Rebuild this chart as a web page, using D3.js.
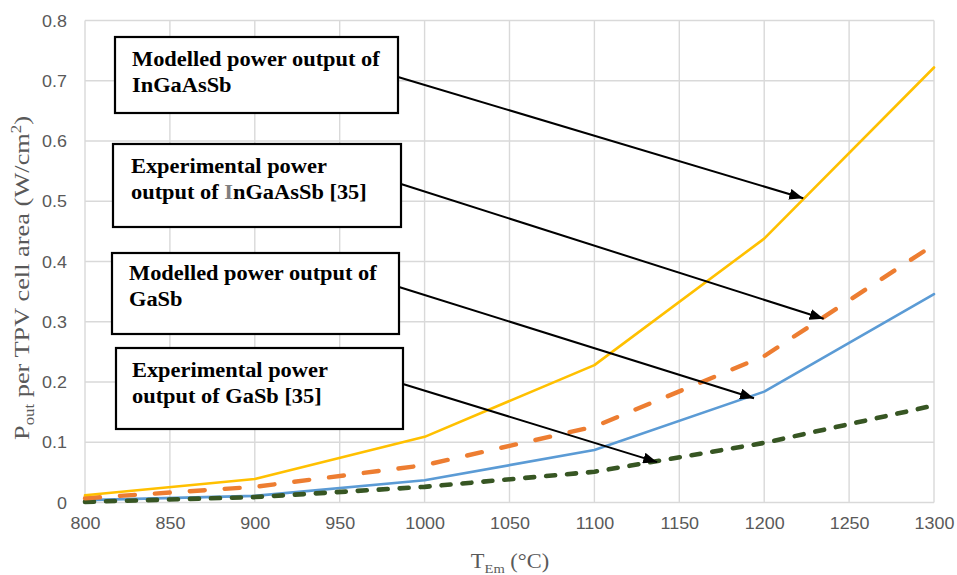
<!DOCTYPE html>
<html>
<head>
<meta charset="utf-8">
<script src="https://cdn.jsdelivr.net/npm/d3@7"></script>
<style>
  html, body { margin: 0; padding: 0; background: #fff; }
  svg { display: block; }
</style>
</head>
<body>
<svg id="chart" width="957" height="575"></svg>
<script>
// Emitter temperature (°C)
const temps = [800, 900, 1000, 1100, 1200, 1300];
// Power output per TPV cell area (W/cm²)
const modelledInGaAsSb = [0.012, 0.039, 0.109, 0.228, 0.438, 0.722];
const experimentalInGaAsSb = [0.007, 0.026, 0.062, 0.126, 0.243, 0.428];
const modelledGaSb = [0.004, 0.011, 0.037, 0.087, 0.184, 0.346];
const experimentalGaSb = [0.001, 0.009, 0.026, 0.051, 0.099, 0.161];

const xTicks = [800, 850, 900, 950, 1000, 1050, 1100, 1150, 1200, 1250, 1300];
const yTicks = [0, 0.1, 0.2, 0.3, 0.4, 0.5, 0.6, 0.7, 0.8];

// Callout texts and the point on each curve they point to [°C, W/cm²]
const calloutLines = [
  ["Modelled power output of", "InGaAsSb"],
  ["Experimental power", "output of |I|nGaAsSb [35]"],
  ["Modelled power output of", "GaSb"],
  ["Experimental power", "output of GaSb [35]"]
];
const calloutTargets = [[1223, 0.505], [1235, 0.305], [1194, 0.173], [1137, 0.067]];

const W = 957, H = 575;
const margin = { top: 20.5, right: 23, bottom: 72.5, left: 85 };
const STRETCH = 1.12; // horizontal text widening

const svg = d3.select("#chart");
const x = d3.scaleLinear().domain([800, 1300]).range([margin.left, W - margin.right]);
const y = d3.scaleLinear().domain([0, 0.8]).range([H - margin.bottom, margin.top]);

// Gridlines
const grid = svg.append("g").attr("stroke", "#d9d9d9").attr("stroke-width", 1.4);
grid.selectAll("line.v").data(xTicks).join("line")
  .attr("x1", d => x(d)).attr("x2", d => x(d))
  .attr("y1", y(0.8)).attr("y2", y(0));
grid.selectAll("line.h").data(yTicks).join("line")
  .attr("x1", x(800)).attr("x2", x(1300))
  .attr("y1", d => y(d)).attr("y2", d => y(d));

// Tick labels through d3 axes (domain/ticks hidden)
const tickFont = "'Liberation Sans', Arial, sans-serif";
const xAxis = svg.append("g")
  .attr("transform", `translate(0,${y(0)})`)
  .call(d3.axisBottom(x).tickValues(xTicks).tickFormat(d3.format("d")).tickSize(0).tickPadding(19));
const yAxis = svg.append("g")
  .attr("transform", `translate(${x(800)},0)`)
  .call(d3.axisLeft(y).tickValues(yTicks).tickFormat(d => d === 0 ? "0" : d3.format(".1f")(d)).tickSize(0).tickPadding(18));
[xAxis, yAxis].forEach(ax => {
  ax.select(".domain").remove();
  ax.selectAll("text")
    .attr("fill", "#595959")
    .style("font-family", tickFont)
    .style("font-size", "16px");
});
xAxis.selectAll("text").attr("dy", "0").attr("y", 0)
  .attr("transform", `translate(0,26) scale(${STRETCH},1)`);
yAxis.selectAll("text").attr("dy", "0.35em")
  .attr("transform", `scale(${STRETCH},1)`)
  .attr("x", -18 / STRETCH);

// Series
const line = d3.line().x((d, i) => x(temps[i])).y(d => y(d));
const series = [
  { values: modelledGaSb, color: "#5b9bd5", width: 2.6, dash: null },
  { values: experimentalGaSb, color: "#375623", width: 4.6, dash: "9,12" },
  { values: experimentalInGaAsSb, color: "#ed7d31", width: 4.4, dash: "15,20" },
  { values: modelledInGaAsSb, color: "#ffc000", width: 2.6, dash: null }
];
svg.append("g").selectAll("path").data(series).join("path")
  .attr("d", d => line(d.values))
  .attr("fill", "none")
  .attr("stroke", d => d.color)
  .attr("stroke-width", d => d.width)
  .attr("stroke-linecap", "round")
  .attr("stroke-linejoin", "round")
  .attr("stroke-dasharray", d => d.dash);

// Axis titles
const serif = "'Liberation Serif', 'Times New Roman', serif";
const xTitle = svg.append("text")
  .attr("transform", `translate(510,568) scale(${STRETCH},1)`)
  .attr("text-anchor", "middle")
  .attr("fill", "#595959")
  .style("font-family", serif).style("font-size", "20px");
xTitle.append("tspan").text("T");
xTitle.append("tspan").attr("dy", 5).style("font-size", "13px").text("Em");
xTitle.append("tspan").attr("dy", -5).text(" (°C)");

const yTitle = svg.append("text")
  .attr("transform", `translate(29,278) rotate(-90) scale(1.2,1)`)
  .attr("text-anchor", "middle")
  .attr("fill", "#595959")
  .style("font-family", serif).style("font-size", "22px");
yTitle.append("tspan").text("P");
yTitle.append("tspan").attr("dy", 5).style("font-size", "14px").text("out");
yTitle.append("tspan").attr("dy", -5).text(" per TPV cell area (W/cm");
yTitle.append("tspan").attr("dy", -8).style("font-size", "14px").text("2");
yTitle.append("tspan").attr("dy", 8).text(")");

// Callout boxes
const boxes = [
  { x: 115, y: 37, w: 283, h: 76, tx: 132, ty: 66 },
  { x: 113, y: 144, w: 288, h: 83, tx: 131, ty: 173 },
  { x: 112, y: 253, w: 287, h: 81, tx: 129, ty: 280 },
  { x: 116, y: 348, w: 287, h: 81, tx: 132, ty: 377 }
];
const arrowStarts = [[398, 77], [401, 184], [399, 287], [403, 384]];

const defs = svg.append("defs");
defs.append("marker")
  .attr("id", "head")
  .attr("markerUnits", "userSpaceOnUse")
  .attr("viewBox", "0 0 14 11")
  .attr("refX", 14).attr("refY", 5.5)
  .attr("markerWidth", 14).attr("markerHeight", 11)
  .attr("orient", "auto")
  .append("path").attr("d", "M0,0 L14,5.5 L0,11 Z").attr("fill", "#000");

const notes = svg.append("g");
boxes.forEach((b, i) => {
  notes.append("rect")
    .attr("x", b.x).attr("y", b.y).attr("width", b.w).attr("height", b.h)
    .attr("fill", "#fff").attr("stroke", "#000").attr("stroke-width", 2.2);
  const t = notes.append("text")
    .attr("transform", `translate(${b.tx},${b.ty}) scale(${STRETCH},1)`)
    .attr("fill", "#000")
    .style("font-family", serif).style("font-size", "20px").style("font-weight", "bold");
  calloutLines[i].forEach((ln, j) => {
    ln.split("|").forEach((p, k) => {
      const ts = t.append("tspan").text(p);
      if (k === 0) ts.attr("x", 0).attr("y", j * 26);
      if (k === 1) ts.attr("fill", "#7f7f7f");
    });
  });
});
notes.selectAll("line.arrow").data(calloutTargets).join("line")
  .attr("x1", (d, i) => arrowStarts[i][0]).attr("y1", (d, i) => arrowStarts[i][1])
  .attr("x2", d => x(d[0])).attr("y2", d => y(d[1]))
  .attr("stroke", "#000").attr("stroke-width", 2)
  .attr("marker-end", "url(#head)");
</script>
</body>
</html>
